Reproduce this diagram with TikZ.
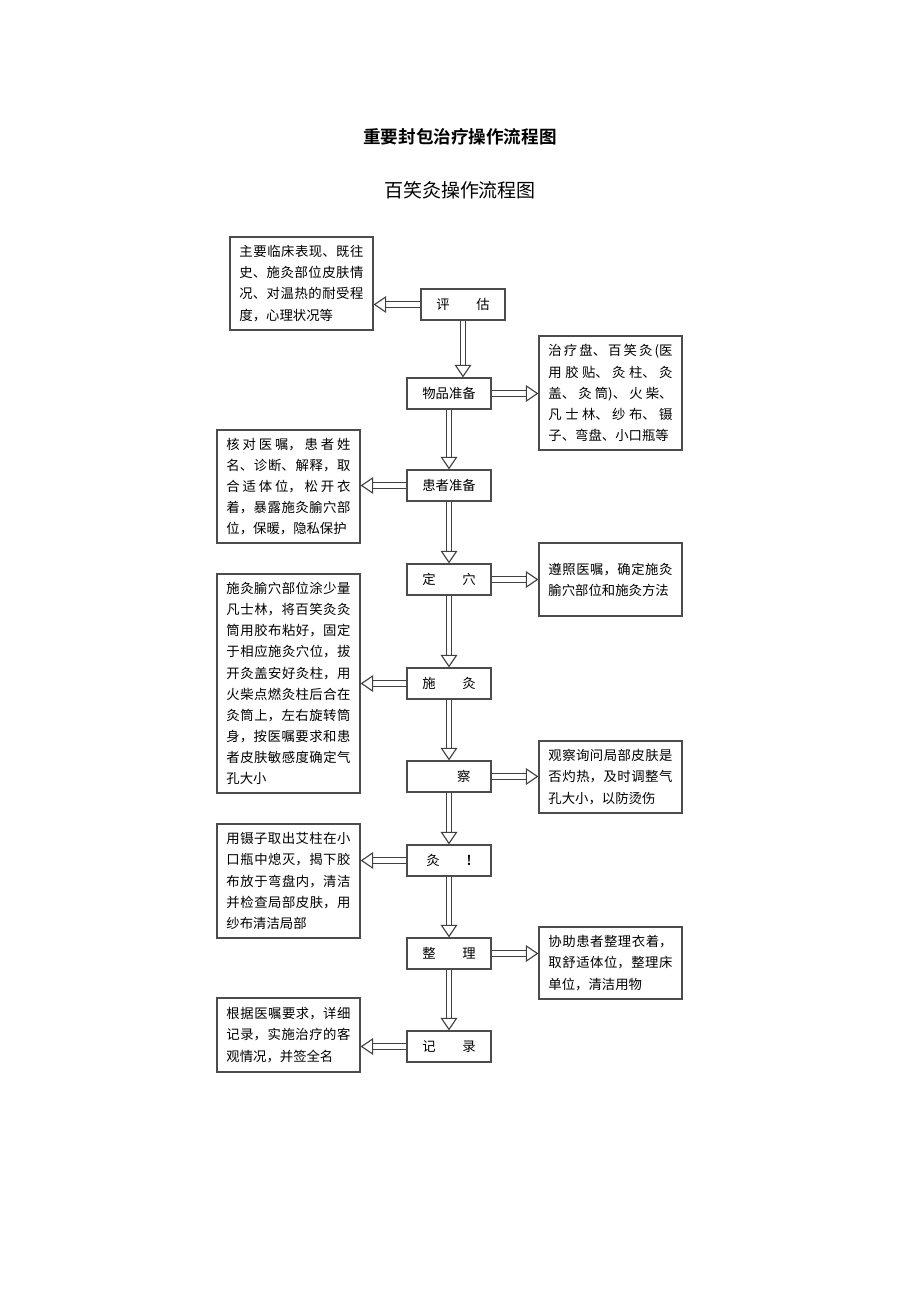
\documentclass[tikz,border=0pt]{standalone}
\usepackage{fontspec}
\setmainfont{Noto Sans CJK SC}[BoldFont={Noto Sans CJK SC Bold}]
\XeTeXlinebreaklocale "zh"
\XeTeXlinebreakskip=0pt plus 1pt
\usetikzlibrary{arrows.meta,positioning}

\begin{document}
\begin{tikzpicture}[x=0.025cm,y=-0.025cm]
        \tikzset{
            stepbox/.style={
                    draw=black!70,
                    thick,
                    minimum width=2.1cm,
                    minimum height=0.775cm,
                    font=\fontsize{9.5}{11}\selectfont,
                },
            note/.style={
                    draw=black!70,
                    thick,
                    minimum width=3.575cm,
                    text width=3.1cm,
                    align=justify,
                    font=\fontsize{9.5}{15}\selectfont,
                },
            flow/.style={
                    draw=black!75,
                    double=white,
                    double distance=3pt,
                    thick,
                    -{Triangle[open,length=9pt,width=12pt]},
                }
        }
        \useasboundingbox (0,0) rectangle (920,1301);
        \node[font=\bfseries\fontsize{12.5}{14}\selectfont] (title) at (460,137) {重要封包治疗操作流程图};
        \node[font=\fontsize{13.5}{15}\selectfont] (sub) at (460,190) {百笑灸操作流程图};

        \node[stepbox] (pg) at (463,304.5) {评\qquad 估};
        \node[stepbox] (wp) at (449,393.5) {物品准备};
        \node[stepbox] (hz) at (449,485.5) {患者准备};
        \node[stepbox] (dx) at (449,579.5) {定\qquad 穴};
        \node[stepbox] (sj) at (449,683.5) {施\qquad 灸};
        \node[stepbox] (gc) at (449,776.5) {\hspace{2.2em}察};
        \node[stepbox] (jb) at (449,860.5) {灸\qquad \textbf{!}};
        \node[stepbox] (zl) at (449,953.5) {整\qquad 理};
        \node[stepbox] (jl) at (449,1046.5) {记\qquad 录};

        \node[note, minimum height=2.325cm] (n1) at (301.5,283.5) {主要临床表现、既往史、施灸部位皮肤情况、对温热的耐受程度，心理状况等};
        \node[note, minimum height=2.85cm] (n2) at (610.5,393) {治疗盘、百笑灸(医用胶贴、灸柱、灸盖、灸筒)、火柴、凡士林、纱布、镊子、弯盘、小口瓶等};
        \node[note, minimum height=2.825cm] (n3) at (288.5,486.5) {核对医嘱，患者姓名、诊断、解释，取合适体位，松开衣着，暴露施灸腧穴部位，保暖，隐私保护};
        \node[note, minimum height=1.825cm] (n4) at (610.5,579.5) {遵照医嘱，确定施灸腧穴部位和施灸方法};
        \node[note, minimum height=5.475cm] (n5) at (288.5,683.5) {施灸腧穴部位涂少量凡士林，将百笑灸灸筒用胶布粘好，固定于相应施灸穴位，拔开灸盖安好灸柱，用火柴点燃灸柱后合在灸筒上，左右旋转筒身，按医嘱要求和患者皮肤敏感度确定气孔大小};
        \node[note, minimum height=1.8cm] (n6) at (610.5,777) {观察询问局部皮肤是否灼热，及时调整气孔大小，以防烫伤};
        \node[note, minimum height=2.85cm] (n7) at (288.5,881) {用镊子取出艾柱在小口瓶中熄灭，揭下胶布放于弯盘内，清洁并检查局部皮肤，用纱布清洁局部};
        \node[note, minimum height=1.8cm] (n8) at (610.5,963) {协助患者整理衣着，取舒适体位，整理床单位，清洁用物};
        \node[note, minimum height=1.85cm] (n9) at (288.5,1035) {根据医嘱要求，详细记录，实施治疗的客观情况，并签全名};

        % main flow
        \draw[flow] (pg.south) -- (wp.north -| pg.south);
        \foreach \a/\b in {wp/hz, hz/dx, dx/sj, sj/gc, gc/jb, jb/zl, zl/jl}
            \draw[flow] (\a) -- (\b);

        % side notes
        \draw[flow] (pg.west) -- (n1.east |- pg.west);
        \draw[flow] (wp.east) -- (n2.west |- wp.east);
        \draw[flow] (hz.west) -- (n3.east |- hz.west);
        \draw[flow] (dx.east) -- (n4.west |- dx.east);
        \draw[flow] (sj.west) -- (n5.east |- sj.west);
        \draw[flow] (gc.east) -- (n6.west |- gc.east);
        \draw[flow] (jb.west) -- (n7.east |- jb.west);
        \draw[flow] (zl.east) -- (n8.west |- zl.east);
        \draw[flow] (jl.west) -- (n9.east |- jl.west);
    \end{tikzpicture}
\end{document}
